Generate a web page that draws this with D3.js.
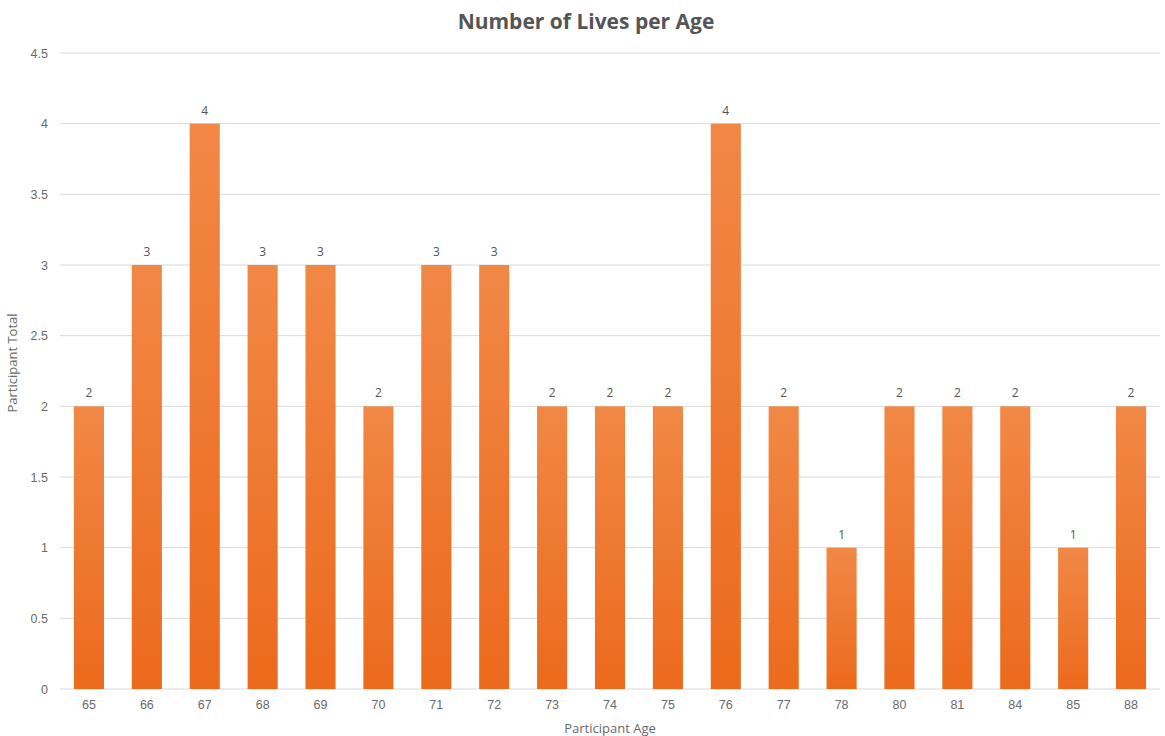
<!DOCTYPE html>
<html>
<head>
<meta charset="utf-8">
<script src="https://cdn.jsdelivr.net/npm/d3@7"></script>
<style>
  html, body { margin: 0; padding: 0; background: #fff; }
  svg { display: block; font-family: "Open Sans", "Noto Sans", sans-serif; }
</style>
</head>
<body>
<svg id="chart" width="1165" height="736"></svg>
<script>
// Participant ages and how many lives fall in each age
const ages = ["65", "66", "67", "68", "69", "70", "71", "72", "73", "74", "75", "76", "77", "78", "80", "81", "84", "85", "88"];
const counts = [2, 3, 4, 3, 3, 2, 3, 3, 2, 2, 2, 4, 2, 1, 2, 2, 2, 1, 2];
const yTicks = [0, 0.5, 1, 1.5, 2, 2.5, 3, 3.5, 4, 4.5];

const svg = d3.select("#chart");
const margin = { top: 53, right: 5, bottom: 47, left: 60 };
const width = 1165, height = 736;
const innerW = width - margin.left - margin.right;
const innerH = height - margin.top - margin.bottom;

const g = svg.append("g").attr("transform", `translate(${margin.left},${margin.top})`);

const x = d3.scaleBand().domain(ages).range([0, innerW]).paddingInner(0.48).paddingOuter(0.24);
const y = d3.scaleLinear().domain([0, 4.5]).range([innerH, 0]);

// Bar fill: light orange on top fading to a deeper orange at the base
const defs = svg.append("defs");
const grad = defs.append("linearGradient").attr("id", "barGrad")
  .attr("x1", 0).attr("y1", 0).attr("x2", 0).attr("y2", 1);
grad.append("stop").attr("offset", "0%").attr("stop-color", "#f18846");
grad.append("stop").attr("offset", "100%").attr("stop-color", "#ec6a1c");

// Horizontal gridlines
g.append("g")
  .selectAll("line")
  .data(yTicks)
  .join("line")
  .attr("x1", 0).attr("x2", innerW)
  .attr("y1", d => y(d)).attr("y2", d => y(d))
  .attr("stroke", "#d9d9d9").attr("stroke-width", 1);

// Y axis labels
const yAxis = g.append("g")
  .call(d3.axisLeft(y).tickValues(yTicks).tickSize(0).tickPadding(12).tickFormat(d3.format("")));
yAxis.select(".domain").remove();
yAxis.selectAll("text").attr("fill", "#6a6a6a").style("font-size", "12.5px");

// X axis labels
const xAxis = g.append("g")
  .attr("transform", `translate(0,${innerH})`)
  .call(d3.axisBottom(x).tickSize(0).tickPadding(11));
xAxis.select(".domain").remove();
xAxis.selectAll("text").attr("fill", "#6a6a6a").style("font-size", "12.5px");

// Bars
g.append("g")
  .selectAll("rect")
  .data(ages.map((a, i) => ({ age: a, n: counts[i] })))
  .join("rect")
  .attr("x", d => x(d.age))
  .attr("width", x.bandwidth())
  .attr("y", d => y(d.n))
  .attr("height", d => innerH - y(d.n))
  .attr("fill", "url(#barGrad)");

// Value labels above each bar
g.append("g")
  .selectAll("text")
  .data(ages.map((a, i) => ({ age: a, n: counts[i] })))
  .join("text")
  .attr("x", d => x(d.age) + x.bandwidth() / 2)
  .attr("y", d => y(d.n) - 9)
  .attr("text-anchor", "middle")
  .attr("fill", "#555")
  .style("font-size", "12px")
  .text(d => d.n);

// Title
svg.append("text")
  .attr("x", 586).attr("y", 29)
  .attr("text-anchor", "middle")
  .attr("fill", "#555")
  .style("font-size", "21px")
  .style("font-weight", "bold")
  .text("Number of Lives per Age");

// Axis titles
svg.append("text")
  .attr("x", 610).attr("y", 733)
  .attr("text-anchor", "middle")
  .attr("fill", "#6a6a6a")
  .style("font-size", "13px")
  .text("Participant Age");

svg.append("text")
  .attr("transform", "translate(17,363) rotate(-90)")
  .attr("text-anchor", "middle")
  .attr("fill", "#6a6a6a")
  .style("font-size", "13px")
  .text("Participant Total");
</script>
</body>
</html>
